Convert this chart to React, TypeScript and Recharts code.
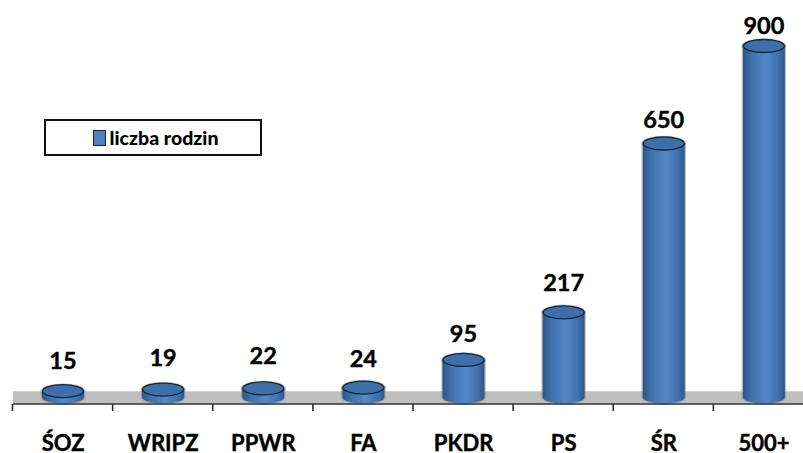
import React from 'react';
import { BarChart, Bar, XAxis, YAxis, Legend, LabelList, ReferenceArea } from 'recharts';

const categories = ['ŚOZ', 'WRIPZ', 'PPWR', 'FA', 'PKDR', 'PS', 'ŚR', '500+'];
const families = [15, 19, 22, 24, 95, 217, 650, 900];
// hand placed labels in the original, gap above the bar top
const labelLift = [31, 33, 33, 30, 27, 30, 25, 21];

const chartData = categories.map((name, i) => ({ name, families: families[i] }));

const CHART_W = 815;
const CHART_H = 453;
const MARGIN = { top: 0, right: 1, bottom: 0, left: 13 };
const BAND = (CHART_W - MARGIN.left - MARGIN.right) / categories.length;
const FONT = 'Lato, "Open Sans", sans-serif';

const Cylinder = (props: any) => {
  const { x, y, width, height } = props;
  const rx = width / 2;
  const ry = 6.5;
  const side = `M${x},${y} L${x},${y + height} A${rx},${ry} 0 0 0 ${x + width},${y + height} L${x + width},${y} Z`;
  return (
    <g>
      <path d={side} fill="none" stroke="#777" strokeOpacity={0.45} strokeWidth={2.5} />
      <ellipse cx={x + rx} cy={y} rx={rx} ry={ry} fill="none" stroke="#777" strokeOpacity={0.45} strokeWidth={2.5} />
      <path d={side} fill="url(#cyl)" />
      <ellipse cx={x + rx} cy={y} rx={rx - 0.5} ry={ry} fill="#3f6fa8" stroke="#14273f" strokeWidth={1.3} />
    </g>
  );
};

const FamilyLabel = (props: any) => {
  const { x, y, width, index } = props;
  return (
    <text
      x={x + width / 2}
      y={y - labelLift[index]}
      textAnchor="middle"
      dominantBaseline="central"
      fontFamily={FONT}
      fontWeight={700}
      fontSize={23.5}
      fill="#000"
      stroke="#000"
      strokeWidth={0.4}
    >
      {families[index]}
    </text>
  );
};

const CategoryTick = (props: any) => {
  const { x, payload } = props;
  return (
    <g>
      <line x1={x - BAND / 2 - 0.5} x2={x - BAND / 2 - 0.5} y1={404} y2={411} stroke="#222" strokeWidth={1.5} />
      <text
        x={x}
        y={442}
        textAnchor="middle"
        dominantBaseline="central"
        fontFamily={FONT}
        fontWeight={700}
        fontSize={22}
        fill="#000"
        stroke="#000"
        strokeWidth={0.4}
      >
        {payload.value}
      </text>
    </g>
  );
};

const LegendBox = ({ payload }: any) => (
  <div
    style={{
      boxSizing: 'border-box',
      width: 218,
      height: 37,
      paddingLeft: 5,
      border: '2px solid #111',
      background: '#fff',
      display: 'flex',
      alignItems: 'center',
      justifyContent: 'center',
      fontFamily: FONT,
      fontWeight: 900,
      fontSize: 19.5,
      color: '#000',
    }}
  >
    {(payload || []).map((item: any) => (
      <React.Fragment key={item.value}>
        <span style={{ width: 11, height: 14, background: item.color, border: '1px solid #14273f', marginRight: 4 }} />
        <span>{item.value}</span>
      </React.Fragment>
    ))}
  </div>
);

export default function App() {
  return (
    <div style={{ position: 'absolute', left: 0, top: 0, width: 803, height: 453, overflow: 'hidden', background: '#fff' }}>
      <BarChart width={CHART_W} height={CHART_H} data={chartData} margin={MARGIN}>
        <defs>
          <linearGradient id="cyl" x1="0" x2="1" y1="0" y2="0">
            <stop offset="0" stopColor="#2c5688" />
            <stop offset="0.2" stopColor="#3f70ac" />
            <stop offset="0.55" stopColor="#5488c8" />
            <stop offset="0.85" stopColor="#3f70ac" />
            <stop offset="1" stopColor="#2c5688" />
          </linearGradient>
        </defs>
        <ReferenceArea y1={-18} y2={15} fill="#bfbfbf" fillOpacity={1} stroke="none" />
        <XAxis
          dataKey="name"
          height={49}
          interval={0}
          tickLine={false}
          axisLine={{ stroke: '#333', strokeWidth: 1.5 }}
          tick={<CategoryTick />}
        />
        <YAxis hide domain={[-18, 1018]} />
        <Legend
          layout="horizontal"
          verticalAlign="middle"
          align="center"
          wrapperStyle={{ left: 44, top: 119, width: 218 }}
          content={<LegendBox />}
        />
        <Bar dataKey="families" name="liczba rodzin" fill="#4f81bd" barSize={42} shape={<Cylinder />} isAnimationActive={false}>
          <LabelList dataKey="families" content={<FamilyLabel />} />
        </Bar>
      </BarChart>
    </div>
  );
}
